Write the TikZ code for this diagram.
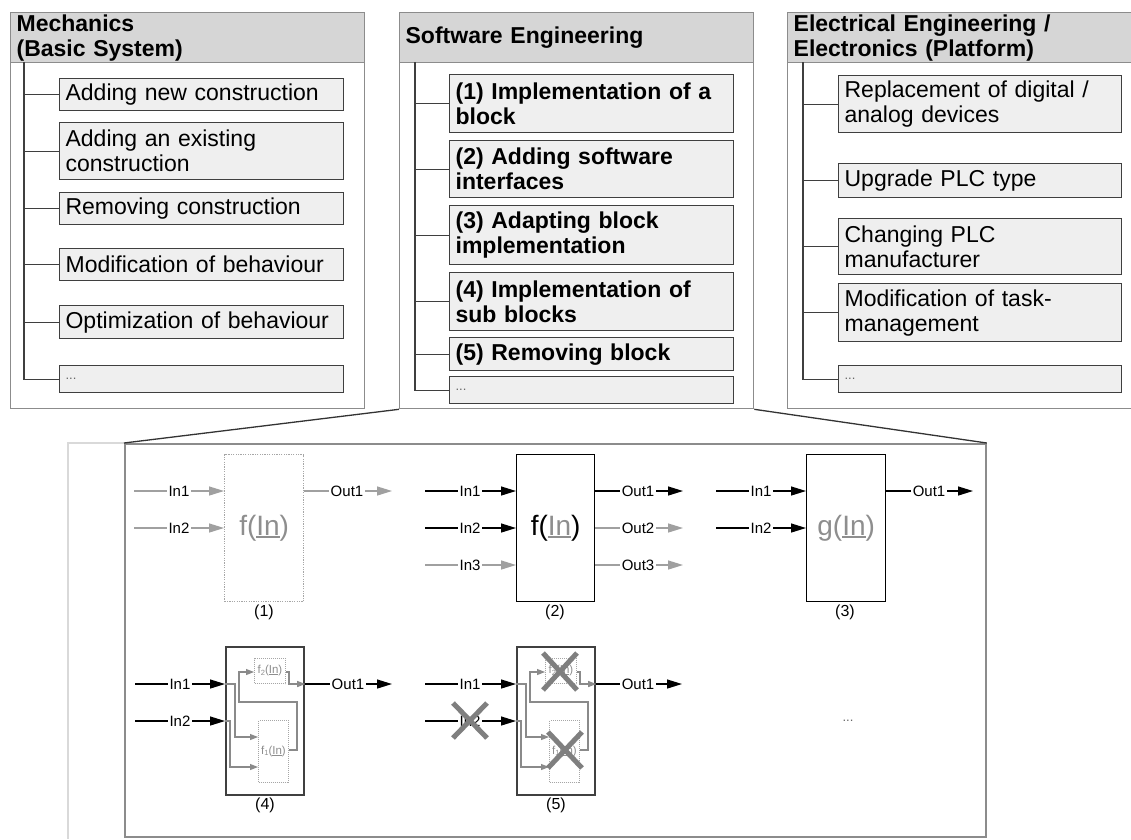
\documentclass[tikz,border=0pt]{standalone}
\usepackage{fontspec}
\setmainfont{Liberation Sans}
\usetikzlibrary{arrows.meta}

\definecolor{headgray}{HTML}{D6D6D6}
\definecolor{itemfill}{HTML}{EFEFEF}
\definecolor{itemline}{HTML}{3F3F3F}
\definecolor{panelline}{HTML}{8C8C8C}
\definecolor{wiregray}{HTML}{8A8A8A}
\definecolor{lightsig}{HTML}{A0A0A0}
\definecolor{funcgray}{HTML}{8E8E8E}
\definecolor{crossgray}{HTML}{7F7F7F}
\definecolor{faintline}{HTML}{D9D9D9}

\newcommand\itemfont{\fontsize{23}{25}\selectfont}
\newcommand\dotfont{\fontsize{13}{13}\selectfont}
\newcommand\labfont{\fontsize{15}{15}\selectfont}
\newcommand\funfont{\fontsize{28}{28}\selectfont}
\newcommand\subfont{\fontsize{11.5}{12}\selectfont}
\newcommand\numfont{\fontsize{16}{16}\selectfont}
% underlined argument, rule scaled with the current font
\newcommand\undl[1]{\setbox0=\hbox{#1}\rlap{\rule[-0.1em]{\wd0}{0.065em}}\box0}
\newcommand\lowidx[1]{\raisebox{-1.5pt}{\fontsize{7.5}{7.5}\selectfont #1}}

% block with two nested sub-blocks (f1 feeds f2)
\newcommand\nestblock[1]{%
  \node[nest] (#1) at (225,646) {};
  \node[subblk, minimum width=31pt, minimum height=25pt] (#1a) at (254,658) {f\lowidx{2}(\undl{In})};
  \node[subblk, minimum width=30pt, minimum height=62pt] (#1b) at (258,720) {f\lowidx{1}(\undl{In})};
  \draw[wirearrow] (#1.west |- 0,684) -| (235,737) -- (#1b.west |- 0,737);
  \draw[wirearrow] (#1.west |- 0,721) -| (230,767) -- (#1b.west |- 0,767);
  \draw[wirearrow] (#1b.east |- 0,750) -- (297,750) |- (239,702) |- (#1a.west |- 0,672);
  \draw[wirearrow] (#1a.east |- 0,672) -| (289,684) -- (#1.east |- 0,684);
}

\begin{document}
\begin{tikzpicture}[x=1pt,y=-1pt,
  panel/.style={draw=panelline, line width=1.3pt, fill=white, anchor=north west,
    inner sep=0pt, minimum width=354pt, minimum height=396pt},
  head/.style={draw=panelline, line width=1.3pt, fill=headgray, anchor=north west,
    minimum width=354pt, minimum height=50pt, text width=342pt, inner xsep=6pt,
    inner ysep=0pt, align=left, font=\itemfont\bfseries},
  entry/.style={draw=itemline, line width=1.2pt, fill=itemfill, anchor=north west,
    inner xsep=6pt, inner ysep=0pt, align=left, font=\itemfont},
  bentry/.style={entry, font=\itemfont\bfseries},
  lcol/.style={minimum width=284pt, text width=272pt},
  rcol/.style={minimum width=283pt, text width=271pt},
  more/.style={font=\dotfont, text=black!60},
  branch/.style={draw=itemline, line width=1.2pt},
  frame/.style={draw=panelline, line width=1.8pt, anchor=north west,
    minimum width=861pt, minimum height=393pt, inner sep=0pt},
  zoomline/.style={draw=black!80, line width=1.3pt},
  faint/.style={draw=faintline, line width=1.2pt},
  blk/.style={draw=black, line width=1.3pt, anchor=north west, minimum width=79pt,
    minimum height=147pt, inner sep=0pt},
  ghostblk/.style={blk, draw=black!35, dash pattern=on 1.2pt off 1.2pt},
  nest/.style={draw=black!75, line width=2.2pt, anchor=north west, minimum width=78pt,
    minimum height=148pt, inner sep=0pt},
  subblk/.style={draw=black!35, line width=1pt, dash pattern=on 1pt off 1pt,
    anchor=north west, inner sep=0pt, font=\subfont, text=funcgray},
  sig/.style={line width=1.3pt, color=black, -{Triangle[length=15pt,width=9pt]}},
  ghostsig/.style={sig, color=lightsig},
  wirearrow/.style={draw=wiregray, line width=1.1pt, -{Triangle[length=8pt,width=6pt]}},
  plab/.style={fill=white, inner xsep=1.5pt, inner ysep=1pt, font=\labfont},
  num/.style={font=\numfont},
  cross/.style={draw=crossgray, line width=5pt}
]
\clip (0,0) rectangle (1131,839);
\fill[white] (0,0) rectangle (1131,839);

% ---------------- Mechanics ----------------
\node[panel] (mech) at (10,12) {};
\node[head] (mechH) at (10,12) {Mechanics\\(Basic System)};
\coordinate (mechT) at (24,62);
\node[entry, lcol, minimum height=32pt] (m1) at (59,78) {Adding new construction};
\node[entry, lcol, minimum height=57pt] (m2) at (59,122) {Adding an existing\\construction};
\node[entry, lcol, minimum height=32pt] (m3) at (59,192) {Removing construction};
\node[entry, lcol, minimum height=32pt] (m4) at (59,248) {Modification of behaviour};
\node[entry, lcol, minimum height=33pt] (m5) at (59,305) {Optimization of behaviour};
\node[entry, lcol, minimum height=27pt, more] (m6) at (59,365) {...};
\foreach \i in {1,...,6} \draw[branch] (mechT) |- (m\i.west);

% ---------------- Software Engineering ----------------
\node[panel] (se) at (399,12) {};
\node[head] (seH) at (399,12) {Software Engineering};
\coordinate (seT) at (415,62);
\node[bentry, lcol, minimum height=58pt] (s1) at (449,74) {(1) Implementation of a\\block};
\node[bentry, lcol, minimum height=57pt] (s2) at (449,140) {(2) Adding software\\interfaces};
\node[bentry, lcol, minimum height=59pt] (s3) at (449,205) {(3) Adapting block\\implementation};
\node[bentry, lcol, minimum height=58pt] (s4) at (449,272) {(4) Implementation of\\sub blocks};
\node[bentry, lcol, minimum height=33pt] (s5) at (449,337) {(5) Removing block};
\node[entry, lcol, minimum height=27pt, more] (s6) at (449,376) {...};
\foreach \i in {1,...,6} \draw[branch] (seT) |- (s\i.west);

% ---------------- Electrical Engineering ----------------
\node[panel] (ee) at (787,12) {};
\node[head] (eeH) at (787,12) {Electrical Engineering /\\Electronics (Platform)};
\coordinate (eeT) at (803,62);
\node[entry, rcol, minimum height=57pt] (e1) at (838,75) {Replacement of digital /\\analog devices};
\node[entry, rcol, minimum height=34pt] (e2) at (838,163) {Upgrade PLC type};
\node[entry, rcol, minimum height=56pt] (e3) at (838,218) {Changing PLC\\manufacturer};
\node[entry, rcol, minimum height=58pt] (e4) at (838,283) {Modification of task-\\management};
\node[entry, rcol, minimum height=27pt, more] (e5) at (838,365) {...};
\foreach \i in {1,...,5} \draw[branch] (eeT) |- (e\i.west);

% ---------------- detail frame ----------------
\node[frame] (zoom) at (124,443) {};
\coordinate (fbot) at (68,839);
\draw[faint] (zoom.north west) -| (fbot);
\draw[zoomline] (se.south west) -- (zoom.north west);
\draw[zoomline] (se.south east) -- (zoom.north east);

% (1) implementation of a block
\node[ghostblk, font=\funfont, text=funcgray] (b1) at (224,454) {f(\undl{In})};
\coordinate (b1i1) at (134,491);
\coordinate (b1i2) at (134,528);
\coordinate (b1o1) at (392,491);
\draw[ghostsig] (b1i1) -- (b1.west |- b1i1);
\draw[ghostsig] (b1i2) -- (b1.west |- b1i2);
\draw[ghostsig] (b1.east |- b1o1) -- (b1o1);
\node[plab] (b1l1) at (179,491) {In1};
\node[plab] (b1l2) at (179,528) {In2};
\node[plab] (b1l3) at (347,491) {Out1};
\node[num] (b1n) at (264,612) {(1)};

% (2) adding software interfaces
\node[blk, minimum width=78pt, font=\funfont] (b2) at (516,454) {f(\textcolor{funcgray}{\undl{In}})};
\coordinate (b2i1) at (425,491);
\coordinate (b2i2) at (425,528);
\coordinate (b2i3) at (425,565);
\coordinate (b2o1) at (683,491);
\coordinate (b2o2) at (683,528);
\coordinate (b2o3) at (683,565);
\draw[sig] (b2i1) -- (b2.west |- b2i1);
\draw[sig] (b2i2) -- (b2.west |- b2i2);
\draw[ghostsig] (b2i3) -- (b2.west |- b2i3);
\draw[sig] (b2.east |- b2o1) -- (b2o1);
\draw[ghostsig] (b2.east |- b2o2) -- (b2o2);
\draw[ghostsig] (b2.east |- b2o3) -- (b2o3);
\node[plab] (b2l1) at (470,491) {In1};
\node[plab] (b2l2) at (470,528) {In2};
\node[plab] (b2l3) at (470,565) {In3};
\node[plab] (b2l4) at (638,491) {Out1};
\node[plab] (b2l5) at (638,528) {Out2};
\node[plab] (b2l6) at (638,565) {Out3};
\node[num] (b2n) at (555,612) {(2)};

% (3) adapting block implementation
\node[blk, font=\funfont, text=funcgray] (b3) at (806,454) {g(\undl{In})};
\coordinate (b3i1) at (716,491);
\coordinate (b3i2) at (716,528);
\coordinate (b3o1) at (973,491);
\draw[sig] (b3i1) -- (b3.west |- b3i1);
\draw[sig] (b3i2) -- (b3.west |- b3i2);
\draw[sig] (b3.east |- b3o1) -- (b3o1);
\node[plab] (b3l1) at (761,491) {In1};
\node[plab] (b3l2) at (761,528) {In2};
\node[plab] (b3l3) at (929,491) {Out1};
\node[num] (b3n) at (845,612) {(3)};

% (4) implementation of sub blocks
\nestblock{b4}
\coordinate (b4i1) at (135,684);
\coordinate (b4i2) at (135,721);
\coordinate (b4o1) at (392,684);
\draw[sig] (b4i1) -- (b4.west |- b4i1);
\draw[sig] (b4i2) -- (b4.west |- b4i2);
\draw[sig] (b4.east |- b4o1) -- (b4o1);
\node[plab] (b4l1) at (180,684) {In1};
\node[plab] (b4l2) at (180,721) {In2};
\node[plab] (b4l3) at (348,684) {Out1};
\node[num] (b4n) at (265,805) {(4)};

% (5) removing block
\begin{scope}[xshift=291pt]
\nestblock{b5}
\end{scope}
\coordinate (b5i1) at (425,684);
\coordinate (b5i2) at (425,721);
\coordinate (b5o1) at (682,684);
\draw[sig] (b5i1) -- (b5.west |- b5i1);
\draw[sig] (b5i2) -- (b5.west |- b5i2);
\draw[sig] (b5.east |- b5o1) -- (b5o1);
\node[plab] (b5l1) at (470,684) {In1};
\node[plab] (b5l2) at (470,721) {In2};
\node[plab] (b5l3) at (638,684) {Out1};
\node[num] (b5n) at (556,805) {(5)};
\draw[cross] (453,703) -- (487,738) (453,738) -- (487,703);
\draw[cross] (543,653) -- (577,690) (543,690) -- (577,653);
\draw[cross] (548,732) -- (582,768) (548,768) -- (582,732);

\node[more] (etc) at (848,721) {...};
\end{tikzpicture}
\end{document}
